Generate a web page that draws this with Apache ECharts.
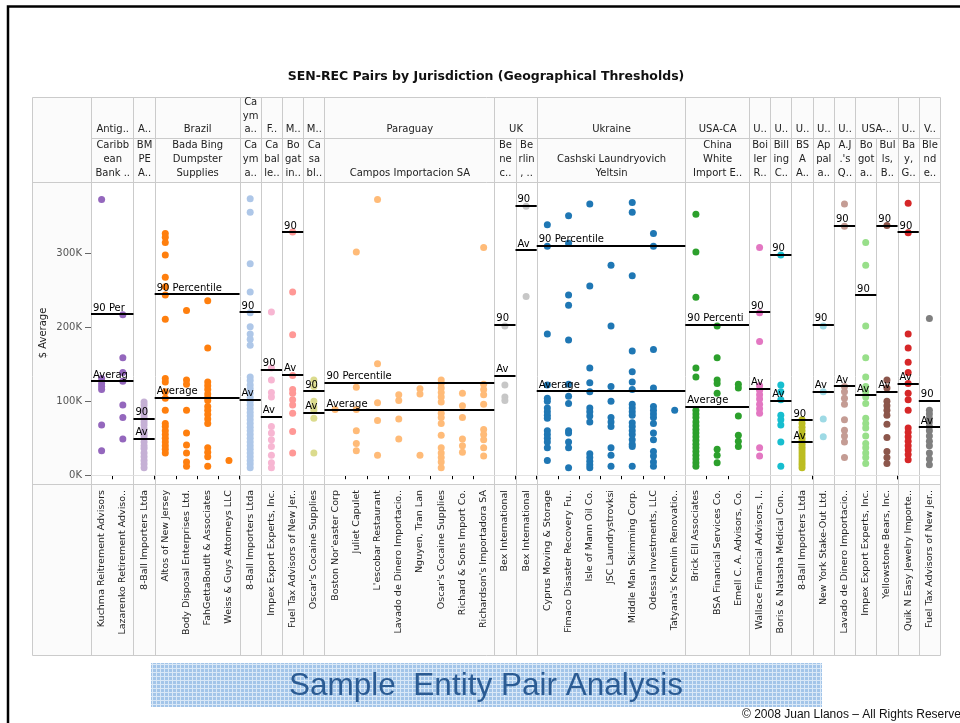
<!DOCTYPE html>
<html><head><meta charset="utf-8">
<script src="https://cdn.jsdelivr.net/npm/echarts@6/dist/echarts.min.js"></script>
<style>html,body{margin:0;padding:0;background:#fff}#c{width:960px;height:723px}</style>
</head><body><div id="c"></div>
<script>
// ---------- DATA ----------
const chartTitle = 'SEN-REC Pairs by Jurisdiction (Geographical Thresholds)';
const yAxisName = '$ Average';
const yTicks = [0, 100000, 200000, 300000];

const jurisdictions = ['Antig..', 'A..', 'Brazil', 'Ca\nym\na..', 'F..', 'M..', 'M..', 'Paraguay', 'UK', 'Ukraine', 'USA-CA', 'U..', 'U..', 'U..', 'U..', 'U..', 'USA-..', 'U..', 'V..'];
const jurisdictionSpan = [1, 1, 1, 1, 1, 1, 1, 1, 2, 1, 1, 1, 1, 1, 1, 1, 2, 1, 1];

const senEntities = ['Caribb\nean\nBank ..', 'BM\nPE\nA..', 'Bada Bing\nDumpster\nSupplies', 'Ca\nym\na..', 'Ca\nbal\nle..', 'Bo\ngat\nin..', 'Ca\nsa\nbl..', 'Campos Importacion SA', 'Be\nne\nc..', 'Be\nrlin\n, ..', 'Cashski Laundryovich\nYeltsin', 'China\nWhite\nImport E..', 'Boi\nler\nR..', 'Bill\ning\nC..', 'BS\nA\nA..', 'Ap\npal\na..', "A.J\n.'s\nQ..", 'Bo\ngot\na..', 'Bul\nls,\nB..', 'Ba\ny,\nG..', 'Ble\nnd\ne..'];
const paneRecCount = [2, 1, 4, 1, 1, 1, 1, 8, 1, 1, 7, 3, 1, 1, 1, 1, 1, 1, 1, 1, 1];

const recNames = ['Kuchma Reitrement Advisors', 'Lazarenko Retirement Adviso..', '8-Ball Importers Ltda', 'Altos of New Jersey', 'Body Disposal Enterprises Ltd.', 'FahGettaBoutIt & Associates', 'Weiss & Guys Attorneys LLC', '8-Ball Importers Ltda', 'Impex Export Experts, Inc.', 'Fuel Tax Advisors of New Jer..', "Oscar's Cocaine Supplies", "Boston Nor'easter Corp", 'Juliet Capulet', "L'escobar Restaurant", 'Lavado de Dinero Importacio..', 'Nguyen, Tran Lan', "Oscar's Cocaine Supplies", 'Richard & Sons Import Co.', "Richardson's Importadora SA", 'Bex International', 'Bex International', 'Cyprus Moving & Storage', 'Fimaco Disaster Recovery Fu..', 'Isle of Mann Oil Co.', 'JSC Laundrystrovksi', 'Middle Man Skimming Corp.', 'Odessa Investments, LLC', "Tatyana's Kremlin Renovatio..", 'Brick Ell Associates', 'BSA Financial Services Co.', 'Emell C. A. Advisors, Co.', 'Wallace Financial Advisors, I..', 'Boris & Natasha Medical Con..', '8-Ball Importers Ltda', 'New York Stake-Out Ltd.', 'Lavado de Dinero Importacio..', 'Impex Export Experts, Inc.', 'Yellowstone Bears, Inc.', 'Quik N Easy Jewelry Importe..', 'Fuel Tax Advisors of New Jer..'];

// values in $K
const kuchma = [373, 131, 124, 120, 116, 68, 33];
const lazarenko = [217, 159, 139, 127, 95, 78, 49];
const eightBallBmpe = [99, 95, 90, 85, 80, 76, 72, 68, 63, 58, 54, 50, 45, 40, 36, 30, 25, 20, 15, 10];
const altos = [327, 322, 315, 298, 268, 255, 244, 211, 131, 126, 113, 104, 88, 70, 66, 60, 55, 50, 45, 40, 35, 30];
const bodyDisposal = [223, 129, 123, 88, 57, 41, 30, 18, 12];
const fahGetta = [236, 172, 126, 121, 116, 110, 105, 101, 93, 88, 82, 76, 70, 37, 31, 25, 12];
const weissGuys = [20];
const eightBallCayman = [374, 356, 286, 248, 220, 201, 191, 184, 176, 133, 128, 122, 117, 111, 105, 100, 95, 90, 85, 80, 75, 70, 65, 60, 55, 50, 45, 40, 35, 30, 25, 20, 15, 10];
const impexCaballe = [221, 145, 129, 112, 106, 66, 57, 48, 39, 27, 17, 10];
const fuelTaxBogatin = [329, 248, 190, 135, 116, 111, 102, 95, 84, 59, 30];
const oscarsCasabl = [129, 120, 100, 92, 88, 77, 30];
const bostonNoreaster = [89];
const julietCapulet = [302, 119, 89, 60, 43, 33];
const lescobar = [373, 151, 98, 74, 27];
const lavadoCampos = [109, 101, 76, 49];
const nguyenTranLan = [117, 110, 27];
const oscarsCampos = [129, 124, 118, 112, 106, 99, 84, 78, 70, 54, 37, 30, 24, 18, 10];
const richardSons = [111, 94, 78, 49, 40, 31];
const richardsons = [308, 123, 116, 109, 96, 62, 55, 48, 37, 26];
const bexBenec = [202, 122, 106, 101];
const bexBerlin = [364, 242];
const cyprusMoving = [339, 310, 191, 122, 104, 100, 91, 86, 81, 77, 60, 55, 50, 45, 37, 20];
const fimaco = [351, 314, 244, 230, 183, 123, 107, 97, 60, 57, 45, 37, 10];
const isleOfMann = [367, 256, 145, 125, 113, 91, 86, 80, 72, 29, 24, 19, 14, 10];
const jscLaundry = [284, 202, 120, 100, 78, 72, 66, 37, 27, 12];
const middleMan = [369, 356, 270, 168, 140, 126, 116, 96, 91, 86, 81, 71, 66, 60, 55, 48, 42, 39, 12];
const odessa = [327, 310, 170, 118, 93, 88, 83, 78, 70, 57, 48, 32, 26, 18, 12];
const tatyanas = [88];
const brickEll = [353, 302, 241, 145, 133, 88, 83, 78, 72, 67, 62, 57, 52, 47, 42, 37, 32, 27, 22, 17, 12];
const bsaFinancial = [202, 159, 129, 124, 111, 35, 27, 17];
const emell = [123, 118, 80, 54, 46, 39];
const wallace = [308, 220, 181, 121, 115, 109, 103, 96, 90, 84, 37, 26];
const borisNatasha = [298, 122, 113, 102, 81, 75, 68, 45, 12];
const eightBallBsa = [75, 70, 65, 60, 55, 50, 46, 42, 38, 34, 30, 26, 22, 18, 14, 10];
const newYorkStakeOut = [202, 113, 76, 52];
const lavadoAjs = [367, 337, 120, 113, 104, 96, 75, 61, 53, 45, 24];
const impexBogota = [315, 284, 202, 159, 133, 120, 113, 106, 97, 77, 70, 64, 53, 43, 37, 30, 24, 16];
const yellowstone = [338, 129, 118, 100, 94, 88, 81, 69, 51, 32, 24, 16];
const quikNEasy = [368, 328, 191, 172, 153, 139, 124, 111, 102, 88, 64, 58, 52, 46, 40, 34, 28, 21];
const fuelTaxBlende = [212, 88, 83, 77, 72, 66, 60, 53, 46, 40, 30, 22, 14];

const recValues = [kuchma, lazarenko, eightBallBmpe, altos, bodyDisposal, fahGetta, weissGuys, eightBallCayman, impexCaballe, fuelTaxBogatin, oscarsCasabl, bostonNoreaster, julietCapulet, lescobar, lavadoCampos, nguyenTranLan, oscarsCampos, richardSons, richardsons, bexBenec, bexBerlin, cyprusMoving, fimaco, isleOfMann, jscLaundry, middleMan, odessa, tatyanas, brickEll, bsaFinancial, emell, wallace, borisNatasha, eightBallBsa, newYorkStakeOut, lavadoAjs, impexBogota, yellowstone, quikNEasy, fuelTaxBlende];

const pane90thPercentile = [218, 77, 245, 220.7, 143, 329, 114, 125, 203.5, 365, 311, 204, 220.7, 299, 74.7, 204, 338, 243.6, 338, 329, 101];
const paneAverage = [127.4, 49.5, 105, 102.7, 79.7, 136.5, 84.6, 88, 134.6, 304.5, 114, 92.7, 117, 100.8, 45, 113, 120.7, 108.5, 113, 123.8, 65];
const refLineNames = ['90 Percentile', 'Average'];

const bannerText = 'Sample  Entity Pair Analysis';
const copyrightText = '\u00A9 2008 Juan Llanos \u2013 All Rights Reserved';

// ---------- STYLE ----------
const paneColors = ['#9467bd', '#c5b0d5', '#ff7f0e', '#aec7e8', '#f7b6d2', '#ff9896', '#dbdb8d', '#ffbb78', '#c7c7c7', '#c7c7c7', '#1f77b4', '#2ca02c', '#e377c2', '#17becf', '#bcbd22', '#9edae5', '#c49c94', '#98df8a', '#8c564b', '#d62728', '#7f7f7f'];
const FONT = 'DejaVu Sans';
const X0 = 91, X1 = 940, PLOT_TOP = 182, PLOT_BOTTOM = 484;
const TABLE_L = 32.5, TABLE_T = 97.5, HEAD_MID = 138.5, TABLE_B = 655.5;
const Y_MIN = -11900, Y_MAX = 396800;
const LINE = '#cbcbcb', CELL_BG = '#fbfbfb';

const nCat = recNames.length;
const colW = (X1 - X0) / nCat;
const paneStart = [];
{ let a = 0; paneRecCount.forEach(c => { paneStart.push(a); a += c; }); }

const mctx = document.createElement('canvas').getContext('2d');
function fitText(text, maxW, font) {
  mctx.font = font;
  let t = text;
  while (t.length && mctx.measureText(t).width > maxW) t = t.slice(0, -1);
  return t.replace(/\s+$/, '');
}

const grids = [], xAxes = [], yAxes = [], series = [];
paneRecCount.forEach((cnt, p) => {
  const left = X0 + paneStart[p] * colW;
  const width = cnt * colW;
  grids.push({ left, top: PLOT_TOP, width, height: PLOT_BOTTOM - PLOT_TOP, containLabel: false, outerBoundsMode: 'none' });
  xAxes.push({
    type: 'category', gridIndex: p, data: recNames.slice(paneStart[p], paneStart[p] + cnt), boundaryGap: true,
    axisLine: { show: false },
    axisTick: { show: true, length: 4, interval: 0, lineStyle: { color: '#000', width: 1 } },
    axisLabel: { interval: 0, rotate: 90, margin: 6, fontFamily: FONT, fontSize: 9.5, color: '#222' },
    splitLine: { show: false }
  });
  if (p === 0) {
    yAxes.push({
      type: 'value', gridIndex: p, min: Y_MIN, max: Y_MAX, position: 'left',
      name: yAxisName, nameLocation: 'middle', nameGap: 43, nameRotate: 90,
      nameTextStyle: { fontFamily: FONT, fontSize: 10, color: '#222' },
      axisLine: { show: false },
      axisTick: { show: true, length: 6, customValues: yTicks, lineStyle: { color: '#666' } },
      axisLabel: { customValues: yTicks, formatter: v => (v / 1000) + 'K', margin: 9, fontFamily: FONT, fontSize: 10, color: '#555' },
      splitLine: { show: false }
    });
  } else {
    yAxes.push({ type: 'value', gridIndex: p, min: Y_MIN, max: Y_MAX, show: false, splitLine: { show: false } });
  }
  const data = [];
  for (let k = 0; k < cnt; k++) recValues[paneStart[p] + k].forEach(v => data.push([k, v * 1000]));
  const avail = width - 6;
  const lblFont = '10px "' + FONT + '"';
  series.push({
    type: 'scatter', xAxisIndex: p, yAxisIndex: p, data, symbolSize: 7, silent: true, animation: false,
    itemStyle: { color: paneColors[p], opacity: 1 },
    markLine: {
      silent: true, symbol: ['none', 'none'], animation: false,
      lineStyle: { color: '#000', width: 2, type: 'solid' },
      label: {
        show: true, position: 'insideStartTop', distance: [2, 1],
        formatter: pr => fitText(pr.name, avail, lblFont),
        fontFamily: FONT, fontSize: 10, color: '#000'
      },
      data: [
        { yAxis: 0, lineStyle: { color: '#e2e2e2', width: 1, type: 'solid' }, label: { show: false } },
        { name: refLineNames[0], yAxis: pane90thPercentile[p] * 1000 },
        { name: refLineNames[1], yAxis: paneAverage[p] * 1000 }
      ]
    }
  });
});

// ---------- TABLE / DECORATION ----------
const gfx = [];
gfx.push({ type: 'polyline', shape: { points: [[8, 730], [8, 6.5], [970, 6.5]] }, style: { fill: null, stroke: '#000', lineWidth: 2.5 }, z: 1 });
gfx.push({ type: 'rect', shape: { x: TABLE_L, y: TABLE_T, width: X1 - TABLE_L, height: PLOT_TOP - TABLE_T }, style: { fill: CELL_BG }, z: -5 });
gfx.push({ type: 'rect', shape: { x: TABLE_L, y: PLOT_TOP, width: X0 - TABLE_L, height: PLOT_BOTTOM - PLOT_TOP }, style: { fill: CELL_BG }, z: -5 });
gfx.push({ type: 'rect', shape: { x: TABLE_L, y: PLOT_BOTTOM, width: X1 - TABLE_L, height: TABLE_B - PLOT_BOTTOM }, style: { fill: CELL_BG }, z: -5 });
const hl = (x1, x2, y) => gfx.push({ type: 'line', shape: { x1, y1: y, x2, y2: y }, style: { stroke: LINE, lineWidth: 1 }, z: 1 });
const vl = (x, y1, y2) => gfx.push({ type: 'line', shape: { x1: x, y1, x2: x, y2 }, style: { stroke: LINE, lineWidth: 1 }, z: 1 });
gfx.push({ type: 'rect', shape: { x: TABLE_L, y: TABLE_T, width: X1 + 0.5 - TABLE_L, height: TABLE_B - TABLE_T }, style: { fill: null, stroke: LINE, lineWidth: 1 }, z: 1 });
hl(X0, X1, HEAD_MID);
hl(TABLE_L, X1, PLOT_TOP + 0.5);
hl(TABLE_L, X1, PLOT_BOTTOM + 0.5);
vl(X0 + 0.5, TABLE_T, TABLE_B);
const jurStartPane = [];
{ let a = 0; jurisdictionSpan.forEach(s => { jurStartPane.push(a); a += s; }); }
const isJurStart = new Set(jurStartPane);
for (let p = 1; p < paneRecCount.length; p++) {
  const x = Math.round(X0 + paneStart[p] * colW) + 0.5;
  vl(x, isJurStart.has(p) ? TABLE_T : HEAD_MID, TABLE_B);
}
const txt = (text, x, y, font, fill, align, vAlign, lh) => gfx.push({
  type: 'text', z: 3, style: { text, x, y, font, fill, align, verticalAlign: vAlign, lineHeight: lh }
});
jurisdictions.forEach((j, i) => {
  const p0 = jurStartPane[i], p1 = p0 + jurisdictionSpan[i];
  const xs = X0 + paneStart[p0] * colW;
  const xe = p1 < paneRecCount.length ? X0 + paneStart[p1] * colW : X1;
  txt(j, (xs + xe) / 2 + 0.5, 136.5, '10px "' + FONT + '"', '#222', 'center', 'bottom', 13.5);
});
senEntities.forEach((s, p) => {
  const xs = X0 + paneStart[p] * colW, xe = xs + paneRecCount[p] * colW;
  txt(s, (xs + xe) / 2 + 0.5, 180.5, '10px "' + FONT + '"', '#222', 'center', 'bottom', 14);
});
txt(chartTitle, 486, 77, 'bold 12.5px "' + FONT + '"', '#111', 'center', 'middle', 14);
const pc = document.createElement('canvas'); pc.width = 4; pc.height = 4;
{ const g = pc.getContext('2d'); g.fillStyle = '#a3c5e9'; g.fillRect(0, 0, 4, 4); g.fillStyle = '#d9e8f7'; g.fillRect(0, 0, 4, 1); g.fillRect(0, 0, 1, 4); }
gfx.push({ type: 'rect', shape: { x: 151, y: 663, width: 671, height: 44 }, style: { fill: { image: pc, repeat: 'repeat' } }, z: 1 });
txt(bannerText, 486, 686, '31.5px "Liberation Sans"', '#2b5b93', 'center', 'middle', 34);
txt(copyrightText, 742, 715, '12px "Liberation Sans"', '#111', 'left', 'middle', 13);

const chart = echarts.init(document.getElementById('c'), null, { renderer: 'canvas' });
chart.setOption({
  backgroundColor: '#fff',
  animation: false,
  grid: grids, xAxis: xAxes, yAxis: yAxes, series,
  graphic: { elements: gfx }
});
</script></body></html>
